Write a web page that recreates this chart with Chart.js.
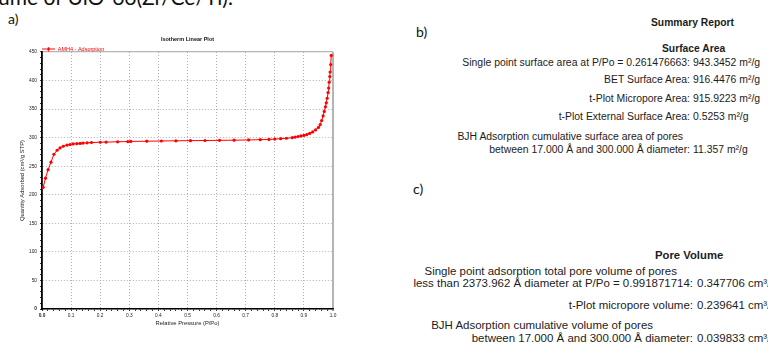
<!DOCTYPE html>
<html>
<head>
<meta charset="utf-8">
<script src="https://cdn.jsdelivr.net/npm/chart.js@4.4.0/dist/chart.umd.min.js"></script>
<style>
  body { margin: 0; width: 768px; height: 353px; overflow: hidden; background: #fff; position: relative; font-family: "Liberation Sans", Arial, sans-serif; color: #1c1c1c; }
  #plotBox { position: absolute; left: 0; top: 0; width: 400px; height: 353px; }
  .t { position: absolute; white-space: nowrap; }
  .cap { font-family: Lato, "Open Sans", sans-serif; font-size: 14px; color: #111; }
  .b { font-size: 10.3px; line-height: 12px; }
  .c { font-size: 11px; line-height: 13px; }
  .h { font-weight: bold; }
  .lab { text-align: right; }
</style>
</head>
<body>
<div class="t cap" style="left:-2px; top:-16px; font-size:21px;">ume of UiO-66(Zr/Ce/Ti).</div>
<div class="t cap" style="left:8px; top:10px;">a)</div>
<div class="t cap" style="left:416px; top:23px;">b)</div>
<div class="t cap" style="left:413px; top:180px;">c)</div>

<div id="plotBox"><canvas id="isoChart"></canvas></div>

<!-- b) surface area block -->
<div class="t b h" style="left:651px; top:17px;">Summary Report</div>
<div class="t b h" style="left:662px; top:43px;">Surface Area</div>
<div class="t b lab" id="bRef" style="right:78px; top:57px;">Single point surface area at P/Po = 0.261476663:</div>
<div class="t b" style="left:693px; top:57px;">943.3452 m²/g</div>
<div class="t b lab" style="right:78px; top:74px;">BET Surface Area:</div>
<div class="t b" style="left:693px; top:74px;">916.4476 m²/g</div>
<div class="t b lab" style="right:78px; top:93px;">t-Plot Micropore Area:</div>
<div class="t b" style="left:693px; top:93px;">915.9223 m²/g</div>
<div class="t b lab" style="right:78px; top:111px;">t-Plot External Surface Area:</div>
<div class="t b" style="left:693px; top:111px;">0.5253 m²/g</div>
<div class="t b lab" style="right:85px; top:131px;">BJH Adsorption cumulative surface area of pores</div>
<div class="t b lab" style="right:78px; top:144px;">between 17.000 Å and 300.000 Å diameter:</div>
<div class="t b" style="left:693px; top:144px;">11.357 m²/g</div>

<!-- c) pore volume block -->
<div class="t c h" style="left:655px; top:249px; font-size:11.3px;">Pore Volume</div>
<div class="t c lab" style="right:91px; top:265px;">Single point adsorption total pore volume of pores</div>
<div class="t c lab" id="cRef" style="right:75px; top:277px;">less than 2373.962 Å diameter at P/Po = 0.991871714:</div>
<div class="t c" style="left:697px; top:277px;">0.347706 cm³/g</div>
<div class="t c lab" style="right:75px; top:299px;">t-Plot micropore volume:</div>
<div class="t c" style="left:697px; top:299px;">0.239641 cm³/g</div>
<div class="t c lab" style="right:115px; top:319px;">BJH Adsorption cumulative volume of pores</div>
<div class="t c lab" style="right:75px; top:332px;">between 17.000 Å and 300.000 Å diameter:</div>
<div class="t c" style="left:697px; top:332px;">0.039833 cm³/g</div>

<script>
// AMH4 adsorption isotherm
const pressure = [
  0.004, 0.012, 0.021, 0.031, 0.041, 0.052, 0.062, 0.073, 0.086, 0.096,
  0.107, 0.12, 0.131, 0.141, 0.155, 0.17, 0.2, 0.22, 0.26, 0.295,
  0.305, 0.36, 0.41, 0.46, 0.51, 0.56, 0.61, 0.66, 0.71, 0.75,
  0.78, 0.80, 0.82, 0.84, 0.86, 0.87, 0.88, 0.89, 0.90, 0.91,
  0.92, 0.93, 0.94, 0.95, 0.956, 0.961, 0.966, 0.970, 0.974, 0.977,
  0.980, 0.983, 0.985, 0.987, 0.989, 0.990, 0.992, 0.994
];
const quantity = [
  213, 229, 244, 257, 271, 278, 282, 285, 287, 288,
  289, 289.5, 290, 290.5, 291, 291.5, 292, 292.2, 292.8, 293.2,
  293.4, 293.8, 294.2, 294.5, 294.8, 295, 295.3, 295.6, 296, 296.5,
  297, 297.5, 298.3, 299, 300, 301, 302, 303, 304, 305.5,
  307.5, 310, 313.5, 318, 323, 330, 338, 346, 354, 361,
  369, 379, 387, 397, 407, 415, 428, 444
];
const seriesName = "AMH4 - Adsorption";
const xMajor = 0.1, xMinor = 0.02;
const yMajor = 50, yMinor = 10;

const gridGray = "#9a9a9a";
const edgeGray = "#b4b4b4";

// the report text: size each block so its widest line spans what it does in the scan
function fitBlock(cls, refId, targetWidth) {
  const ref = document.getElementById(refId);
  const cur = parseFloat(getComputedStyle(ref).fontSize);
  const size = cur * targetWidth / ref.getBoundingClientRect().width;
  document.querySelectorAll("." + cls + ":not(.h)").forEach((el) => {
    el.style.fontSize = size + "px";
  });
}
fitBlock("b", "bRef", 228);
fitBlock("c", "cRef", 280);

// small sample for the legend: line with a marker in the middle
const legendMark = document.createElement("canvas");
legendMark.width = 13;
legendMark.height = 5;
const lm = legendMark.getContext("2d");
lm.strokeStyle = "red";
lm.lineWidth = 1;
lm.beginPath();
lm.moveTo(0, 2.5);
lm.lineTo(13, 2.5);
lm.moveTo(6.5, 0.5);
lm.lineTo(6.5, 4.5);
lm.stroke();
lm.fillStyle = "red";
lm.beginPath();
lm.arc(6.5, 2.5, 1.5, 0, Math.PI * 2);
lm.fill();

function isMajor(v, step) {
  const r = Math.round(v * 1000) / 1000;
  return Math.abs(r / step - Math.round(r / step)) < 1e-6;
}

Chart.defaults.font.family = '"Liberation Sans", Arial, sans-serif';
Chart.defaults.color = "#222";

const points = pressure.map((p, i) => ({ x: p, y: quantity[i] }));

new Chart(document.getElementById("isoChart"), {
  type: "scatter",
  data: {
    datasets: [
      {
        label: seriesName,
        data: points,
        showLine: true,
        borderColor: "#ff0000",
        borderWidth: 1,
        backgroundColor: "#ff0000",
        pointRadius: 1.6,
        pointBorderWidth: 0,
        pointHoverRadius: 1.6,
      },
    ],
  },
  options: {
    responsive: true,
    maintainAspectRatio: false,
    animation: false,
    events: [],
    layout: { padding: { left: 0, right: 67, top: 0, bottom: 0 } },
    plugins: {
      tooltip: { enabled: false },
      title: {
        display: true,
        text: "Isotherm Linear Plot",
        fullSize: false,
        color: "#111",
        font: { size: 5.5, weight: "bold" },
        padding: { top: 35.7, bottom: 3.95 },
      },
      legend: {
        position: "top",
        align: "start",
        fullSize: false,
        maxHeight: 5.75,
        labels: {
          usePointStyle: true,
          pointStyle: legendMark,
          pointStyleWidth: 13,
          color: "#ff0000",
          font: { size: 5.5 },
          padding: 0,
        },
      },
    },
    scales: {
      x: {
        type: "linear",
        min: 0,
        max: 1,
        afterFit: (scale) => { scale.height = 44; },
        ticks: {
          stepSize: xMinor,
          autoSkip: false,
          maxRotation: 0,
          minRotation: 0,
          padding: 2.1,
          color: "#222",
          font: (ctx) => ({ size: 4.8, weight: ctx.tick && ctx.tick.value === 0 ? "bold" : "normal" }),
          callback: (v) => (isMajor(v, xMajor) ? v.toFixed(1) : ""),
        },
        grid: {
          color: (ctx) => {
            if (!ctx.tick) return gridGray;
            if (ctx.tick.value === 1) return edgeGray;
            return isMajor(ctx.tick.value, xMajor) ? gridGray : "rgba(0,0,0,0)";
          },
          lineWidth: (ctx) => (ctx.tick && ctx.tick.value === 1 ? 2 : 0.8),
          tickColor: "#000",
          tickLength: 2,
          tickWidth: 0.8,
        },
        border: {
          color: "#000",
          width: 1.5,
          dash: (ctx) => (ctx.tick && ctx.tick.value !== 1 ? [1, 2] : []),
        },
        title: {
          display: true,
          text: "Relative Pressure (P/Po)",
          color: "#222",
          font: { size: 5.8 },
          padding: { top: 0, bottom: 26.5 },
        },
      },
      y: {
        type: "linear",
        min: 0,
        max: 450,
        afterFit: (scale) => { scale.width = 42; },
        ticks: {
          stepSize: yMinor,
          autoSkip: false,
          padding: 3,
          color: "#222",
          font: (ctx) => ({ size: 4.8, weight: ctx.tick && ctx.tick.value === 0 ? "bold" : "normal" }),
          callback: (v) => (isMajor(v, yMajor) ? String(v) : ""),
        },
        grid: {
          color: (ctx) => {
            if (!ctx.tick) return gridGray;
            if (ctx.tick.value === 450) return edgeGray;
            return isMajor(ctx.tick.value, yMajor) ? gridGray : "rgba(0,0,0,0)";
          },
          lineWidth: (ctx) => (ctx.tick && ctx.tick.value === 450 ? 1.2 : 0.8),
          tickColor: "#000",
          tickLength: 2,
          tickWidth: 0.8,
        },
        border: {
          color: "#000",
          width: 1.8,
          dash: (ctx) => (ctx.tick && ctx.tick.value !== 450 ? [1, 2] : []),
        },
        title: {
          display: true,
          text: "Quantity Adsorbed (cm³/g STP)",
          color: "#222",
          font: { size: 5.8 },
          padding: { top: 18.5, bottom: 0 },
        },
      },
    },
  },
});
</script>
</body>
</html>
